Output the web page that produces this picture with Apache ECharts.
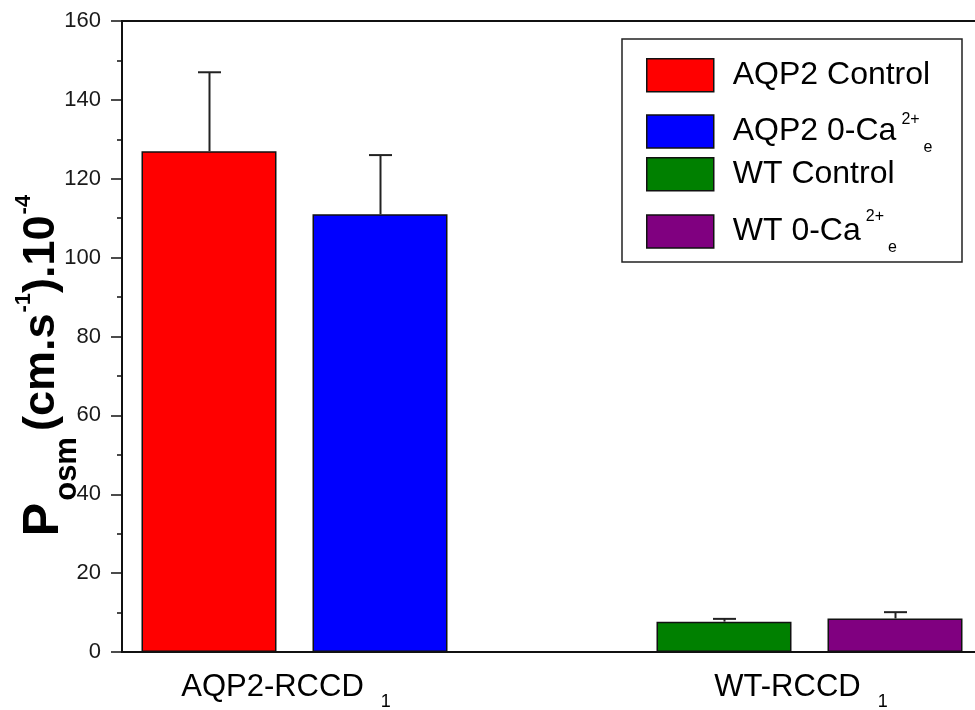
<!DOCTYPE html>
<html>
<head>
<meta charset="utf-8">
<script src="https://cdn.jsdelivr.net/npm/echarts@6/dist/echarts.min.js"></script>
<style>
  html, body { margin: 0; padding: 0; background: #fff; }
  #chart { width: 975px; height: 710px; }
</style>
</head>
<body>
<div id="chart"></div>
<script>
// Cell lines on the x axis (each label carries a subscript "1")
const categories = ['AQP2-RCCD', 'WT-RCCD'];
const categorySub = '1';

// Conditions: name, superscript and subscript parts of the legend text
const seriesNames = ['AQP2 Control', 'AQP2 0-Ca', 'WT Control', 'WT 0-Ca'];
const seriesSup = ['', '2+', '', '2+'];
const seriesSub = ['', 'e', '', 'e'];
const seriesGroup = [0, 0, 1, 1];   // which cell line each condition belongs to
const seriesSlot = [0, 1, 0, 1];    // left / right bar inside the cell line

// Osmotic permeability (cm.s^-1 x 10^-4): mean and error
const means = [127, 111, 7.7, 8.5];
const errors = [20, 15, 0.7, 1.6];

const colors = ['#ff0000', '#0000ff', '#008000', '#800080'];

// Y axis range
const yMin = 0, yMax = 160, yStep = 20;

const FONT = 'Liberation Sans';
const BAR_W = 135;
const BAR_GAP = 36;
const CAP_W = 23;

const catPos = categories.map((c, i) => i + 1);

const chart = echarts.init(document.getElementById('chart'), null, { renderer: 'canvas' });

// Bars: left and right slots are separate stacks so each group gets two bars
const barSeries = seriesNames.map((name, i) => ({
  name: name,
  type: 'bar',
  stack: 'slot' + seriesSlot[i],
  barWidth: BAR_W,
  barGap: (BAR_GAP / BAR_W * 100).toFixed(2) + '%',
  itemStyle: { color: colors[i], borderColor: '#111', borderWidth: 1.5 },
  emphasis: { disabled: true },
  data: catPos.map((p, g) => [p, g === seriesGroup[i] ? means[i] : '-']),
  z: 2
}));

// Upper error bars drawn over the bars
const errorData = seriesNames.map((name, i) => [catPos[seriesGroup[i]], means[i], errors[i], seriesSlot[i] === 0 ? -1 : 1]);
const slotOffset = (BAR_W + BAR_GAP) / 2;
const errorSeries = {
  type: 'custom',
  name: 'error',
  z: 5,
  silent: true,
  encode: { x: 0, y: 1 },
  data: errorData,
  renderItem: function (params, api) {
    const x = api.value(0), y = api.value(1), e = api.value(2), side = api.value(3);
    const base = api.coord([x, y]);
    const top = api.coord([x, y + e]);
    const cx = Math.round(base[0] + side * slotOffset) + 0.5;
    const st = { stroke: '#222', lineWidth: 2 };
    return {
      type: 'group',
      children: [
        { type: 'line', shape: { x1: cx, y1: base[1], x2: cx, y2: top[1] }, style: st },
        { type: 'line', shape: { x1: cx - CAP_W / 2, y1: top[1], x2: cx + CAP_W / 2, y2: top[1] }, style: st }
      ]
    };
  }
};

// Legend: one component per entry, boxed together
const legendTops = [58, 111.5, 157, 209];
const legendRich = {
  mp: { fontSize: 32, fontFamily: FONT, color: '#000' },
  m: { fontSize: 32, fontFamily: FONT, color: '#000', verticalAlign: 'top', padding: [8, 0, 0, 0] },
  supLow: { fontSize: 16, fontFamily: FONT, color: '#000', verticalAlign: 'top', padding: [4, 0, 0, 5] },
  sup: { fontSize: 16, fontFamily: FONT, color: '#000', verticalAlign: 'top', padding: [1.5, 0, 0, 5] },
  sub: { fontSize: 16, fontFamily: FONT, color: '#000', verticalAlign: 'top', padding: [32, 0, 0, 4] }
};
const legends = seriesNames.map((name, i) => ({
  data: [name],
  left: 646,
  top: legendTops[i],
  orient: 'vertical',
  padding: 0,
  itemWidth: 67,
  itemHeight: 33,
  icon: 'rect',
  selectedMode: false,
  itemStyle: { borderColor: '#111', borderWidth: 1.5 },
  formatter: function () {
    if (!seriesSup[i]) return '{mp|' + name + '}';
    const supStyle = i === 1 ? 'supLow' : 'sup';
    return '{m|' + name + '}{' + supStyle + '|' + seriesSup[i] + '}{sub|' + seriesSub[i] + '}';
  },
  textStyle: { padding: [0, 0, 0, 14], rich: legendRich }
}));

const option = {
  backgroundColor: '#fff',
  animation: false,
  textStyle: { fontFamily: FONT },
  grid: {
    left: 122, top: 21, bottom: 58, right: -40.5,
    outerBoundsMode: 'none',
    containLabel: false,
    show: true, borderColor: '#111', borderWidth: 2, backgroundColor: 'transparent'
  },
  graphic: [{
    type: 'rect',
    shape: { x: 622, y: 39, width: 340, height: 223 },
    style: { fill: 'none', stroke: '#222', lineWidth: 1.5 },
    silent: true
  }],
  legend: legends,
  xAxis: {
    type: 'value',
    min: 1 - 172.5 / 515,
    max: 2.4,
    splitLine: { show: false },
    axisTick: { show: false },
    axisLine: { show: true, onZero: false, lineStyle: { color: '#111', width: 2 } },
    axisLabel: {
      customValues: catPos,
      margin: 10,
      formatter: function (v) {
        const idx = catPos.indexOf(v);
        return '{m|' + categories[idx] + '}{s|' + categorySub + '}';
      },
      rich: {
        m: { fontSize: 31, fontFamily: FONT, color: '#000', verticalAlign: 'top', padding: [9.5, 0, 0, 0] },
        s: { fontSize: 18, fontFamily: FONT, color: '#000', verticalAlign: 'top', padding: [31, 17, 0, 17] }
      }
    }
  },
  yAxis: {
    type: 'value',
    min: yMin,
    max: yMax,
    interval: yStep,
    splitLine: { show: false },
    axisLine: { show: true, lineStyle: { color: '#111', width: 2 } },
    axisTick: { show: true, inside: false, length: 11, lineStyle: { color: '#111', width: 1.5 } },
    minorTick: { show: true, splitNumber: 2, length: 5, lineStyle: { color: '#111', width: 1.5 } },
    axisLabel: { margin: 21, fontSize: 22, fontFamily: FONT, color: '#1a1a1a' },
    name: '{P|P}{sub|osm}{m|(cm.s}{sup|-1}{m|).10}{sup|-4}',
    nameLocation: 'middle',
    nameGap: 39,
    nameMoveOverlap: false,
    nameTextStyle: {
      padding: [0, 58, 0, 0],
      rich: {
        P: { fontSize: 50, fontWeight: 'bold', fontFamily: FONT, color: '#000', verticalAlign: 'top', padding: [6, 0, 0, 0] },
        m: { fontSize: 45, fontWeight: 'bold', fontFamily: FONT, color: '#000', verticalAlign: 'top', padding: [6, 0, 0, 0] },
        sub: { fontSize: 31, fontWeight: 'bold', fontFamily: FONT, color: '#000', verticalAlign: 'top', padding: [39, 6, 0, 2] },
        sup: { fontSize: 22, fontWeight: 'bold', fontFamily: FONT, color: '#000', verticalAlign: 'top', padding: [0, 0, 0, 1] }
      }
    }
  },
  series: barSeries.concat([errorSeries])
};

chart.setOption(option);
</script>
</body>
</html>
